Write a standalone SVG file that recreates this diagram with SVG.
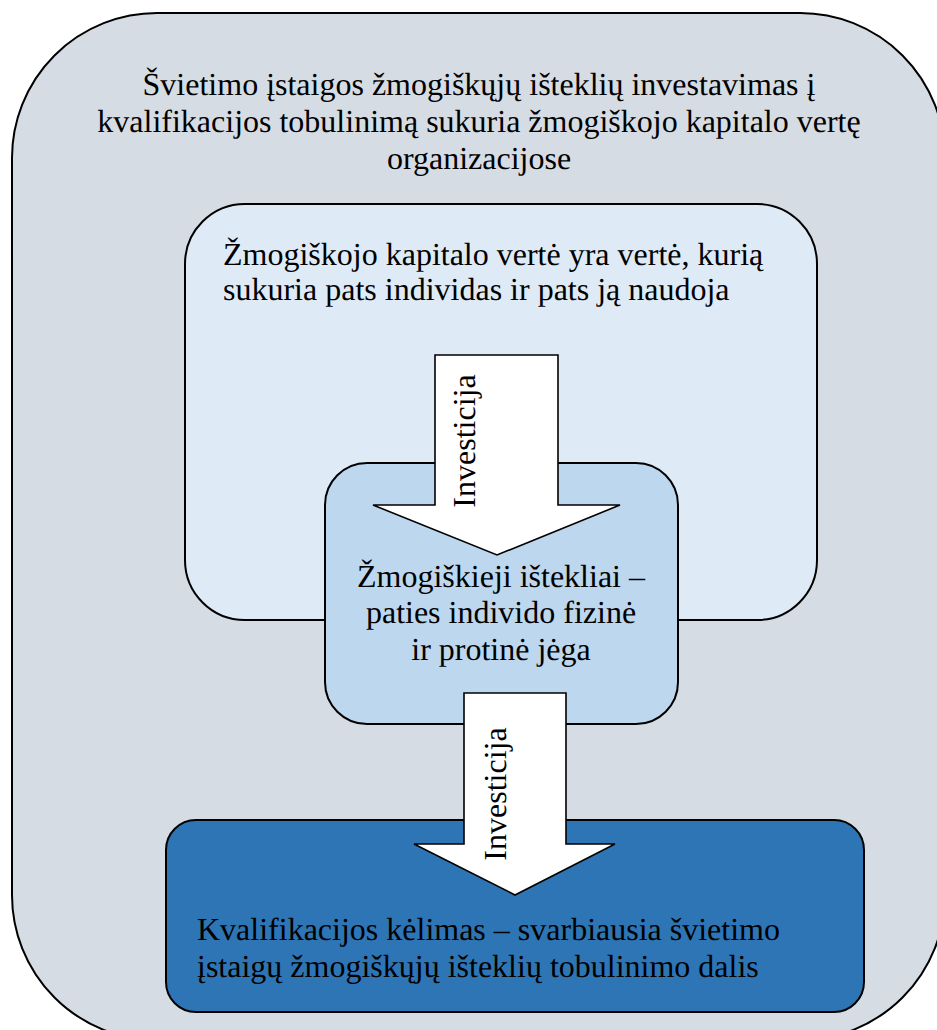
<svg xmlns="http://www.w3.org/2000/svg" width="937" height="1030" viewBox="0 0 937 1030">
  <style>
    .box { stroke: #000; stroke-width: 2; }
    .arrow { fill: #fff; stroke: #000; stroke-width: 1.6; stroke-linejoin: miter; }
    .c { text-anchor: middle; }
  </style>
  <rect width="937" height="1030" fill="#ffffff"/>

  <g font-family="Liberation Serif, serif" font-size="32" fill="#000" text-rendering="geometricPrecision">
    <g id="outer">
      <rect class="box" x="12" y="13" width="933" height="1027" rx="145" ry="145" fill="#D6DCE4"/>
      <text class="c" x="479" y="95">Švietimo įstaigos žmogiškųjų išteklių investavimas į</text>
      <text class="c" x="479" y="132">kvalifikacijos tobulinimą sukuria žmogiškojo kapitalo vertę</text>
      <text class="c" x="479" y="169">organizacijose</text>
    </g>

    <g id="human-capital">
      <rect class="box" x="185" y="204" width="632" height="416" rx="60" ry="60" fill="#DEEBF7"/>
      <text x="223" y="265">Žmogiškojo kapitalo vertė yra vertė, kurią</text>
      <text x="223" y="300">sukuria pats individas ir pats ją naudoja</text>
    </g>

    <g id="human-resources">
      <rect class="box" x="325" y="463" width="353" height="261" rx="42" ry="42" fill="#BDD7EE"/>
      <text class="c" x="501" y="587">Žmogiškieji ištekliai –</text>
      <text class="c" x="501" y="623">paties individo fizinė</text>
      <text class="c" x="501" y="660">ir protinė jėga</text>
    </g>

    <g id="qualification">
      <rect class="box" x="166" y="820" width="698" height="192" rx="30" ry="30" fill="#2E75B6"/>
      <text x="197" y="940">Kvalifikacijos kėlimas – svarbiausia švietimo</text>
      <text x="197" y="977">įstaigų žmogiškųjų išteklių tobulinimo dalis</text>
    </g>

    <g id="connectors">
      <g id="investment-1">
        <polygon class="arrow" points="435,355 558,355 558,505 620,505 497,555 373,505 435,505"/>
        <text class="c" transform="translate(475,441) rotate(-90)">Investicija</text>
      </g>
      <g id="investment-2">
        <polygon class="arrow" points="464,693 566,693 566,844 615,844 515,895 414,844 464,844"/>
        <text class="c" transform="translate(506,794) rotate(-90)">Investicija</text>
      </g>
    </g>
  </g>
</svg>
